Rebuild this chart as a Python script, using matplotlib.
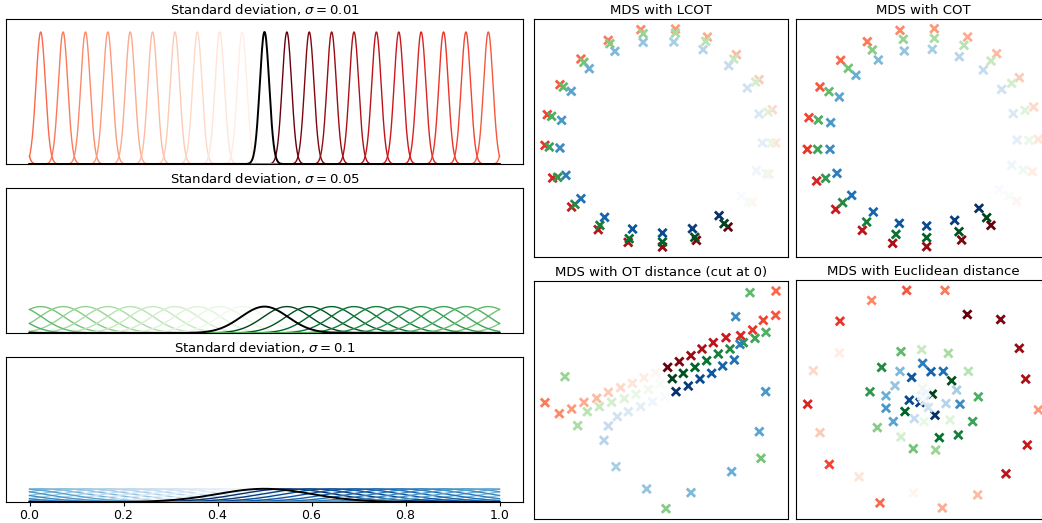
import numpy as np
import matplotlib
matplotlib.use("Agg")
import matplotlib.pyplot as plt

# Gaussians on the circle [0, 1)
N = 21
means = (np.arange(N) + 0.5) / N
sigmas = [0.01, 0.05, 0.1]
ref = 10  # reference gaussian drawn in black (mean 0.5)

# MDS embeddings (points ordered dark -> light)
lcot_red_x = [595, 500, 398, 295, 205, 125, 68, 45, 52, 90, 153, 235, 333, 437, 533, 620, 688, 728, 738, 717, 667]
lcot_red_y = [682, 722, 742, 728, 690, 622, 535, 437, 345, 255, 178, 122, 90, 88, 112, 165, 240, 330, 430, 523, 608]
lcot_green_x = [583, 495, 398, 298, 210, 135, 83, 58, 65, 100, 162, 240, 340, 437, 528, 612, 678, 715, 725, 710, 656]
lcot_green_y = [672, 713, 727, 717, 677, 614, 533, 442, 350, 262, 188, 132, 102, 100, 125, 178, 247, 337, 430, 522, 607]
lcot_blue_x = [568, 488, 398, 308, 224, 153, 108, 90, 95, 124, 178, 255, 340, 432, 520, 597, 653, 688, 698, 680, 635]
lcot_blue_y = [648, 687, 700, 688, 653, 597, 527, 445, 362, 275, 207, 155, 128, 127, 150, 198, 265, 343, 430, 513, 590]

cot_red_x = [603, 515, 410, 308, 217, 137, 80, 52, 57, 90, 152, 232, 330, 433, 533, 620, 688, 731, 745, 727, 680]
cot_red_y = [678, 722, 742, 732, 693, 630, 545, 450, 355, 263, 183, 127, 93, 88, 113, 163, 235, 323, 420, 517, 605]
cot_green_x = [590, 507, 410, 318, 230, 158, 107, 83, 85, 117, 175, 247, 340, 433, 522, 603, 665, 705, 717, 700, 657]
cot_green_y = [655, 697, 715, 705, 668, 610, 537, 450, 362, 277, 207, 152, 120, 117, 138, 185, 252, 333, 423, 512, 590]
cot_blue_x = [567, 494, 410, 328, 250, 185, 141, 120, 122, 148, 198, 265, 343, 427, 508, 580, 635, 670, 681, 665, 627]
cot_blue_y = [627, 663, 680, 672, 638, 588, 522, 450, 370, 293, 228, 182, 155, 150, 172, 212, 270, 343, 422, 498, 570]

ot_red_x = [413, 448, 483, 516, 550, 588, 632, 668, 700, 737, 738, 45, 88, 125, 162, 200, 235, 272, 307, 342, 377]
ot_red_y = [322, 305, 287, 267, 248, 233, 227, 210, 181, 166, 93, 428, 461, 447, 427, 415, 397, 383, 370, 353, 338]
ot_green_x = [427, 460, 495, 530, 565, 600, 640, 675, 708, 660, 693, 408, 105, 143, 172, 208, 245, 283, 318, 355, 390]
ot_green_y = [356, 340, 322, 302, 282, 267, 248, 235, 217, 98, 595, 746, 350, 497, 455, 440, 427, 416, 403, 388, 372]
ot_blue_x = [438, 475, 510, 545, 578, 613, 630, 617, 707, 688, 605, 483, 350, 258, 222, 235, 262, 295, 332, 368, 405]
ot_blue_y = [395, 378, 357, 340, 318, 300, 253, 170, 395, 515, 635, 698, 687, 620, 541, 498, 470, 455, 440, 425, 410]

euc_red_x = [532, 632, 688, 707, 648, 712, 53, 150, 118, 350, 270, 465, 245, 745, 457, 563, 90, 70, 207, 148, 370]
euc_red_y = [167, 182, 268, 360, 643, 557, 435, 187, 615, 95, 730, 95, 125, 452, 745, 706, 520, 335, 652, 282, 700]
euc_green_x = [427, 485, 345, 448, 505, 275, 240, 548, 565, 333, 370, 262, 437, 475, 535, 395, 333, 480, 402, 398, 380]
euc_green_y = [405, 365, 457, 535, 527, 325, 398, 487, 413, 278, 568, 505, 572, 283, 337, 272, 533, 482, 487, 388, 408]
euc_blue_x = [435, 390, 358, 365, 423, 460, 398, 510, 288, 310, 288, 330, 315, 500, 468, 373, 415, 405, 395, 410, 400]
euc_blue_y = [468, 430, 423, 355, 338, 337, 313, 435, 447, 487, 410, 337, 380, 393, 433, 478, 445, 425, 410, 400, 418]

cmaps = [plt.cm.Reds, plt.cm.Greens, plt.cm.Blues]
W, H = 1042, 523
fig = plt.figure(figsize=(W / 100, H / 100), dpi=100)

def px_axes(x0, y0, x1, y1):
    return fig.add_axes([x0 / W, 1 - y1 / H, (x1 - x0) / W, (y1 - y0) / H])

# left column: the gaussians
xs = np.linspace(0, 1, 1000)
left_boxes = [(6, 19, 523, 164), (6, 188, 523, 333), (6, 357, 523, 502)]
for i, (sig, cmap) in enumerate(zip(sigmas, cmaps)):
    ax = px_axes(*left_boxes[i])
    for k in range(N):
        if k == ref:
            continue
        y = sum(np.exp(-(xs - means[k] + s) ** 2 / (2 * sig ** 2)) for s in (-1, 0, 1))
        y = y / (sig * np.sqrt(2 * np.pi))
        j = (k - 11) % N
        ax.plot(xs, y, color=cmap(1 - j / 20), lw=1.0)
    y = np.exp(-(xs - means[ref]) ** 2 / (2 * sig ** 2)) / (sig * np.sqrt(2 * np.pi))
    ax.plot(xs, y, color="black", lw=1.4)
    ax.set_xlim(-0.05, 1.05)
    ax.set_ylim(0, 43.8)
    ax.set_yticks([])
    ax.set_title("Standard deviation, $\\sigma = %g$" % sig, fontsize=9.5, pad=3.5)
    if i < 2:
        ax.set_xticks([])
    else:
        ax.set_xticks([0, 0.2, 0.4, 0.6, 0.8, 1.0])
        ax.tick_params(axis="x", labelsize=9, length=3, pad=2)

# right: MDS scatter plots
panels = [
    ("MDS with LCOT", (534, 19, 788, 257), (12, 775, 772, 58),
     [(lcot_red_x, lcot_red_y), (lcot_green_x, lcot_green_y), (lcot_blue_x, lcot_blue_y)]),
    ("MDS with COT", (796, 19, 1050, 257), (18, 780, 773, 59),
     [(cot_red_x, cot_red_y), (cot_green_x, cot_green_y), (cot_blue_x, cot_blue_y)]),
    ("MDS with OT distance (cut at 0)", (534, 281, 788, 519), (12, 774, 777, 63),
     [(ot_red_x, ot_red_y), (ot_green_x, ot_green_y), (ot_blue_x, ot_blue_y)]),
    ("MDS with Euclidean distance", (796, 280, 1050, 519), (18, 780, 778, 64),
     [(euc_red_x, euc_red_y), (euc_green_x, euc_green_y), (euc_blue_x, euc_blue_y)]),
]
shade = np.linspace(1, 0, N)
for title, box, lims, series in panels:
    ax = px_axes(*box)
    for (sx, sy), cmap in zip(series, cmaps):
        ax.scatter(sx, sy, marker="x", s=36, linewidths=2.0, c=cmap(shade))
    ax.set_xlim(lims[0], lims[1])
    ax.set_ylim(lims[2], lims[3])
    ax.set_xticks([])
    ax.set_yticks([])
    ax.set_title(title, fontsize=9.5, pad=3.5)

fig.savefig("out.png", dpi=100)
